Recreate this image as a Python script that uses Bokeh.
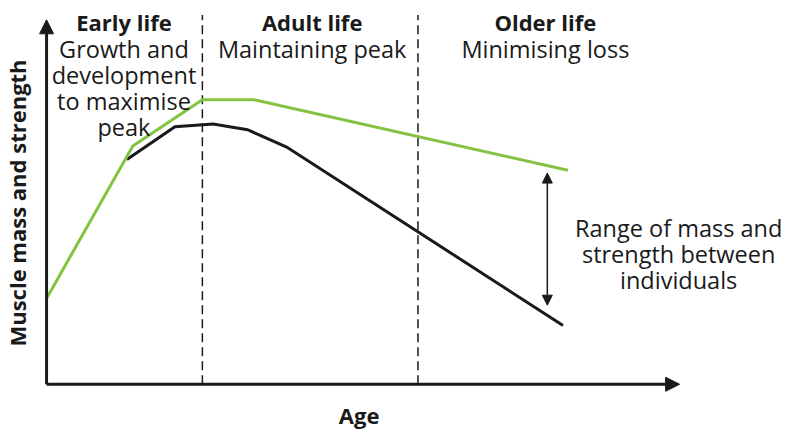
from bokeh.plotting import figure
from bokeh.models import Range1d, Arrow, NormalHead
from bokeh.core.properties import value
from bokeh.embed import file_html
from bokeh.resources import INLINE

# ---- data (age and strength in arbitrary units, origin at the axes crossing) ----
peak_age = [0, 88, 159, 212, 532]            # upper individual (green)
peak_strength = [89, 247, 295, 295, 222]
low_age = [82, 131, 170, 205, 245, 527]      # lower individual (black)
low_strength = [233, 267, 270, 264, 246, 61]
phase_bounds = [159, 379]                    # Early -> Adult -> Older
phase_titles = ["Early life", "Adult life", "Older life"]
phase_texts = [["Growth and", "development", "to maximise", "peak"],
               ["Maintaining peak"],
               ["Minimising loss"]]
range_text = ["Range of mass and", "strength between", "individuals"]
x_label = "Age"
y_label = "Muscle mass and strength"

# ---- layout constants ----
FONT = "Open Sans"
FS = "23.5px"
FS_B = "22px"
GREEN = "#84c341"
BLACK = "#1a1a1a"
X_AXIS_END = 646
Y_AXIS_END = 378
DASH_TOP = 383
phase_centers = [79, 271, 509]
TITLE_Y = 376
LINE_Y0 = 348
LINE_STEP = 27
RANGE_X = 511
RANGE_LOW, RANGE_HIGH = 82, 219
RANGE_TEXT_X = 645
RANGE_TEXT_Y0 = 162

p = figure(width=783, height=431, output_backend="svg", toolbar_location=None,
           x_range=Range1d(-47, 752), y_range=Range1d(-49, 398),
           x_axis_location=None, y_axis_location=None, min_border=0)
p.outline_line_color = None
p.grid.visible = False
p.background_fill_color = "white"

# phase boundaries
p.segment(x0=phase_bounds, y0=[0] * len(phase_bounds), x1=phase_bounds,
          y1=[DASH_TOP] * len(phase_bounds), line_color=BLACK, line_width=1.5,
          line_dash="9 5")

# curves
p.line(low_age, low_strength, line_color=BLACK, line_width=3, line_join="miter")
p.line(peak_age, peak_strength, line_color=GREEN, line_width=3, line_join="miter")

# axes with arrow heads
p.add_layout(Arrow(end=NormalHead(size=14, fill_color=BLACK, line_color=BLACK),
                   x_start=0, y_start=0, x_end=0, y_end=Y_AXIS_END,
                   line_width=3, line_color=BLACK))
p.add_layout(Arrow(end=NormalHead(size=14, fill_color=BLACK, line_color=BLACK),
                   x_start=0, y_start=0, x_end=X_AXIS_END, y_end=0,
                   line_width=3, line_color=BLACK))

# range double arrow
p.add_layout(Arrow(start=NormalHead(size=10, fill_color=BLACK, line_color=BLACK),
                   end=NormalHead(size=10, fill_color=BLACK, line_color=BLACK),
                   x_start=RANGE_X, y_start=RANGE_LOW, x_end=RANGE_X, y_end=RANGE_HIGH,
                   line_width=1.5, line_color=BLACK))

# phase titles (bold)
p.text(x=phase_centers, y=[TITLE_Y] * 3, text=phase_titles,
       text_font=value(FONT), text_font_size=FS_B, text_font_style="bold",
       text_align="center", text_baseline="alphabetic", text_color=BLACK)

# phase descriptions and range note
xs, ys, ts = [], [], []
for cx, lines in zip(phase_centers, phase_texts):
    for i, t in enumerate(lines):
        xs.append(cx)
        ys.append(LINE_Y0 - i * LINE_STEP)
        ts.append(t)
for i, t in enumerate(range_text):
    xs.append(RANGE_TEXT_X)
    ys.append(RANGE_TEXT_Y0 - i * LINE_STEP)
    ts.append(t)
p.text(x=xs, y=ys, text=ts, text_font=value(FONT), text_font_size=FS,
       text_align="center", text_baseline="alphabetic", text_color=BLACK)

# axis labels
p.text(x=[319], y=[-32], text=[x_label], text_font=value(FONT), text_font_size=FS_B,
       text_font_style="bold", text_align="center", text_baseline="alphabetic",
       text_color=BLACK)
p.text(x=[-30], y=[188], text=[y_label], angle=1.5708, text_font=value(FONT),
       text_font_size=FS_B, text_font_style="bold", text_align="center",
       text_baseline="middle", text_color=BLACK)

open("out.html", "w").write(file_html(p, INLINE))
